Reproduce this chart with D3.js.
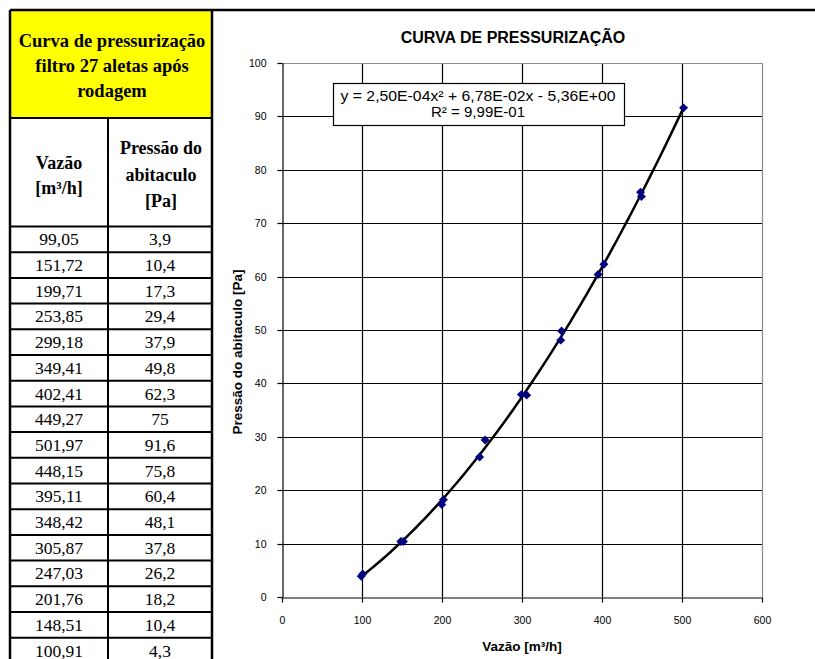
<!DOCTYPE html>
<html>
<head>
<meta charset="utf-8">
<script src="https://cdn.jsdelivr.net/npm/d3@7"></script>
<style>
  body { margin: 0; background: #fff; }
  svg { display: block; }
</style>
</head>
<body>
<div id="chart"></div>
<script>
// dados da tabela (vazão x pressão)
const vazao = [99.05, 151.72, 199.71, 253.85, 299.18, 349.41, 402.41, 449.27, 501.97,
               448.15, 395.11, 348.42, 305.87, 247.03, 201.76, 148.51, 100.91];
const pressao = [3.9, 10.4, 17.3, 29.4, 37.9, 49.8, 62.3, 75, 91.6,
                 75.8, 60.4, 48.1, 37.8, 26.2, 18.2, 10.4, 4.3];

const xTicks = [0, 100, 200, 300, 400, 500, 600];
const yTicks = [0, 10, 20, 30, 40, 50, 60, 70, 80, 90, 100];

const tableTitle = ["Curva de pressurização", "filtro 27 aletas após", "rodagem"];
const colHead1 = ["Vazão", "[m³/h]"];
const colHead2 = ["Pressão do", "abitaculo", "[Pa]"];

const chartTitle = "CURVA DE PRESSURIZAÇÃO";
const xTitle = "Vazão [m³/h]";
const yTitle = "Pressão do abitaculo [Pa]";
const eqLines = ["y = 2,50E-04x² + 6,78E-02x - 5,36E+00", "R² = 9,99E-01"];

const W = 815, H = 659;
const svg = d3.select("#chart").append("svg")
    .attr("width", W).attr("height", H);

const sans = "'Liberation Sans', Arial, sans-serif";
const serif = "'Liberation Serif', 'Times New Roman', serif";
const fmt = v => String(v).replace(".", ",");
const px = v => Math.round(v) + 0.5;   // alinhar linhas finas ao pixel

// ---------- tabela ----------
const tL = 10, tM = 108, tR = 212, tTop = 10;
const headBottom = 118, colHeadBottom = 226.5, rowH = 25.7;

svg.append("rect")
    .attr("x", tL).attr("y", tTop).attr("width", tR - tL).attr("height", headBottom - tTop)
    .attr("fill", "#ffff00");

const tbl = svg.append("g");
tableTitle.forEach((t, i) => {
  tbl.append("text")
      .attr("x", (tL + tR) / 2 + 1).attr("y", 47 + i * 25)
      .attr("text-anchor", "middle")
      .attr("font-family", serif).attr("font-weight", "bold").attr("font-size", 18.5)
      .text(t);
});
colHead1.forEach((t, i) => {
  tbl.append("text")
      .attr("x", (tL + tM) / 2).attr("y", 169 + i * 25)
      .attr("text-anchor", "middle")
      .attr("font-family", serif).attr("font-weight", "bold").attr("font-size", 18)
      .text(t);
});
colHead2.forEach((t, i) => {
  tbl.append("text")
      .attr("x", (tM + tR) / 2 + 1).attr("y", 154 + i * 26.5)
      .attr("text-anchor", "middle")
      .attr("font-family", serif).attr("font-weight", "bold").attr("font-size", 18)
      .text(t);
});

const rows = tbl.selectAll(".row").data(vazao.map((v, i) => [v, pressao[i]]))
  .enter().append("g")
    .attr("class", "row")
    .attr("transform", (d, i) => "translate(0," + (colHeadBottom + i * rowH) + ")");

rows.append("line")
    .attr("x1", tL).attr("x2", tR).attr("y1", 0).attr("y2", 0)
    .attr("stroke", "#000").attr("stroke-width", 2);
rows.append("text")
    .attr("x", (tL + tM) / 2).attr("y", rowH / 2 + 6)
    .attr("text-anchor", "middle")
    .attr("font-family", serif).attr("font-size", 17.5)
    .text(d => fmt(d[0]));
rows.append("text")
    .attr("x", (tM + tR) / 2).attr("y", rowH / 2 + 6)
    .attr("text-anchor", "middle")
    .attr("font-family", serif).attr("font-size", 17.5)
    .text(d => fmt(d[1]));

// linhas da tabela
tbl.append("line").attr("x1", tL).attr("x2", tR).attr("y1", headBottom).attr("y2", headBottom)
    .attr("stroke", "#000").attr("stroke-width", 2);
tbl.append("line").attr("x1", tM).attr("x2", tM).attr("y1", headBottom).attr("y2", H)
    .attr("stroke", "#000").attr("stroke-width", 2);
tbl.append("line").attr("x1", tL).attr("x2", tL).attr("y1", tTop).attr("y2", H)
    .attr("stroke", "#000").attr("stroke-width", 2.5);
tbl.append("line").attr("x1", tL).attr("x2", W).attr("y1", tTop).attr("y2", tTop)
    .attr("stroke", "#000").attr("stroke-width", 2.5);
tbl.append("line").attr("x1", tR).attr("x2", tR).attr("y1", tTop).attr("y2", H)
    .attr("stroke", "#000").attr("stroke-width", 2.5);

// ---------- gráfico ----------
const x = d3.scaleLinear().domain([0, 600]).range([282, 762]);
const y = d3.scaleLinear().domain([0, 100]).range([597, 63]);

svg.append("text")
    .attr("x", 513).attr("y", 43)
    .attr("text-anchor", "middle")
    .attr("font-family", sans).attr("font-weight", "bold").attr("font-size", 16)
    .text(chartTitle);

// grade
const grid = svg.append("g");
grid.selectAll(".gx").data(xTicks.slice(1, -1)).enter().append("line")
    .attr("x1", d => px(x(d))).attr("x2", d => px(x(d)))
    .attr("y1", y(0)).attr("y2", y(100))
    .attr("stroke", "#000").attr("stroke-width", 1.2);
grid.selectAll(".gy").data(yTicks.slice(1, -1)).enter().append("line")
    .attr("x1", x(0)).attr("x2", x(600))
    .attr("y1", d => px(y(d))).attr("y2", d => px(y(d)))
    .attr("stroke", "#000").attr("stroke-width", 1.2);
// borda da área de plotagem
grid.append("path")
    .attr("d", "M" + x(0) + "," + px(y(100)) + "H" + px(x(600)) + "V" + y(0))
    .attr("fill", "none").attr("stroke", "#8c8c8c").attr("stroke-width", 1.2);

// eixos
const xAxis = svg.append("g")
    .attr("transform", "translate(0," + px(y(0)) + ")")
    .call(d3.axisBottom(x).tickValues(xTicks).tickSize(5).tickPadding(14).tickSizeOuter(0));
const yAxis = svg.append("g")
    .attr("transform", "translate(" + px(x(0)) + ",0)")
    .call(d3.axisLeft(y).tickValues(yTicks).tickSize(5).tickPadding(11).tickSizeOuter(0));
yAxis.selectAll(".tick").attr("transform", d => "translate(0," + px(y(d)) + ")");
xAxis.selectAll(".tick").attr("transform", d => "translate(" + px(x(d)) + ",0)");
[xAxis, yAxis].forEach(a => {
  a.select(".domain").attr("stroke", "#000").attr("stroke-width", 1.2);
  a.selectAll(".tick line").attr("stroke", "#000").attr("stroke-width", 1.2);
  a.selectAll(".tick text")
      .attr("font-family", sans).attr("font-size", 10.5).attr("fill", "#000");
});

svg.append("text")
    .attr("x", (x(0) + x(600)) / 2).attr("y", 651)
    .attr("text-anchor", "middle")
    .attr("font-family", sans).attr("font-weight", "bold").attr("font-size", 13.5)
    .text(xTitle);
svg.append("text")
    .attr("transform", "translate(242,352) rotate(-90)")
    .attr("text-anchor", "middle")
    .attr("font-family", sans).attr("font-weight", "bold").attr("font-size", 13.5)
    .text(yTitle);

// linha de tendência polinomial (mínimos quadrados, ordem 2)
function fitQuad(xs, ys) {
  const n = xs.length;
  let s = [0, 0, 0, 0, 0], t = [0, 0, 0];
  for (let i = 0; i < n; i++) {
    let p = 1;
    for (let k = 0; k < 5; k++) { s[k] += p; if (k < 3) t[k] += p * ys[i]; p *= xs[i]; }
  }
  const A = [[s[0], s[1], s[2], t[0]], [s[1], s[2], s[3], t[1]], [s[2], s[3], s[4], t[2]]];
  for (let c = 0; c < 3; c++) {
    for (let r = c + 1; r < 3; r++) {
      const f = A[r][c] / A[c][c];
      for (let k = c; k < 4; k++) A[r][k] -= f * A[c][k];
    }
  }
  const b = [0, 0, 0];
  for (let r = 2; r >= 0; r--) {
    let v = A[r][3];
    for (let k = r + 1; k < 3; k++) v -= A[r][k] * b[k];
    b[r] = v / A[r][r];
  }
  return b; // c0 + c1 x + c2 x²
}
const coef = fitQuad(vazao, pressao);
const xMin = d3.min(vazao), xMax = d3.max(vazao);
const trend = d3.range(0, 101).map(i => {
  const xv = xMin + (xMax - xMin) * i / 100;
  return [xv, coef[0] + coef[1] * xv + coef[2] * xv * xv];
});
svg.append("path")
    .datum(trend)
    .attr("d", d3.line().x(d => x(d[0])).y(d => y(d[1])))
    .attr("fill", "none").attr("stroke", "#000").attr("stroke-width", 2.5);

// pontos (losangos)
svg.selectAll(".pt").data(vazao.map((v, i) => [v, pressao[i]]))
  .enter().append("path")
    .attr("class", "pt")
    .attr("d", d3.symbol().type(d3.symbolSquare).size(40))
    .attr("transform", d => "translate(" + x(d[0]) + "," + y(d[1]) + ") rotate(45)")
    .attr("fill", "#000080");

// caixa da equação
const eq = svg.append("g");
eq.append("rect")
    .attr("x", 333.5).attr("y", 83.5).attr("width", 291).attr("height", 42)
    .attr("fill", "#fff").attr("stroke", "#000").attr("stroke-width", 1.2);
eqLines.forEach((t, i) => {
  eq.append("text")
      .attr("x", 478).attr("y", 101 + i * 16)
      .attr("text-anchor", "middle")
      .attr("font-family", sans).attr("font-size", 14.5)
      .attr("textLength", i === 0 ? 275 : 94)
      .attr("lengthAdjust", "spacingAndGlyphs")
      .text(t);
});
</script>
</body>
</html>
